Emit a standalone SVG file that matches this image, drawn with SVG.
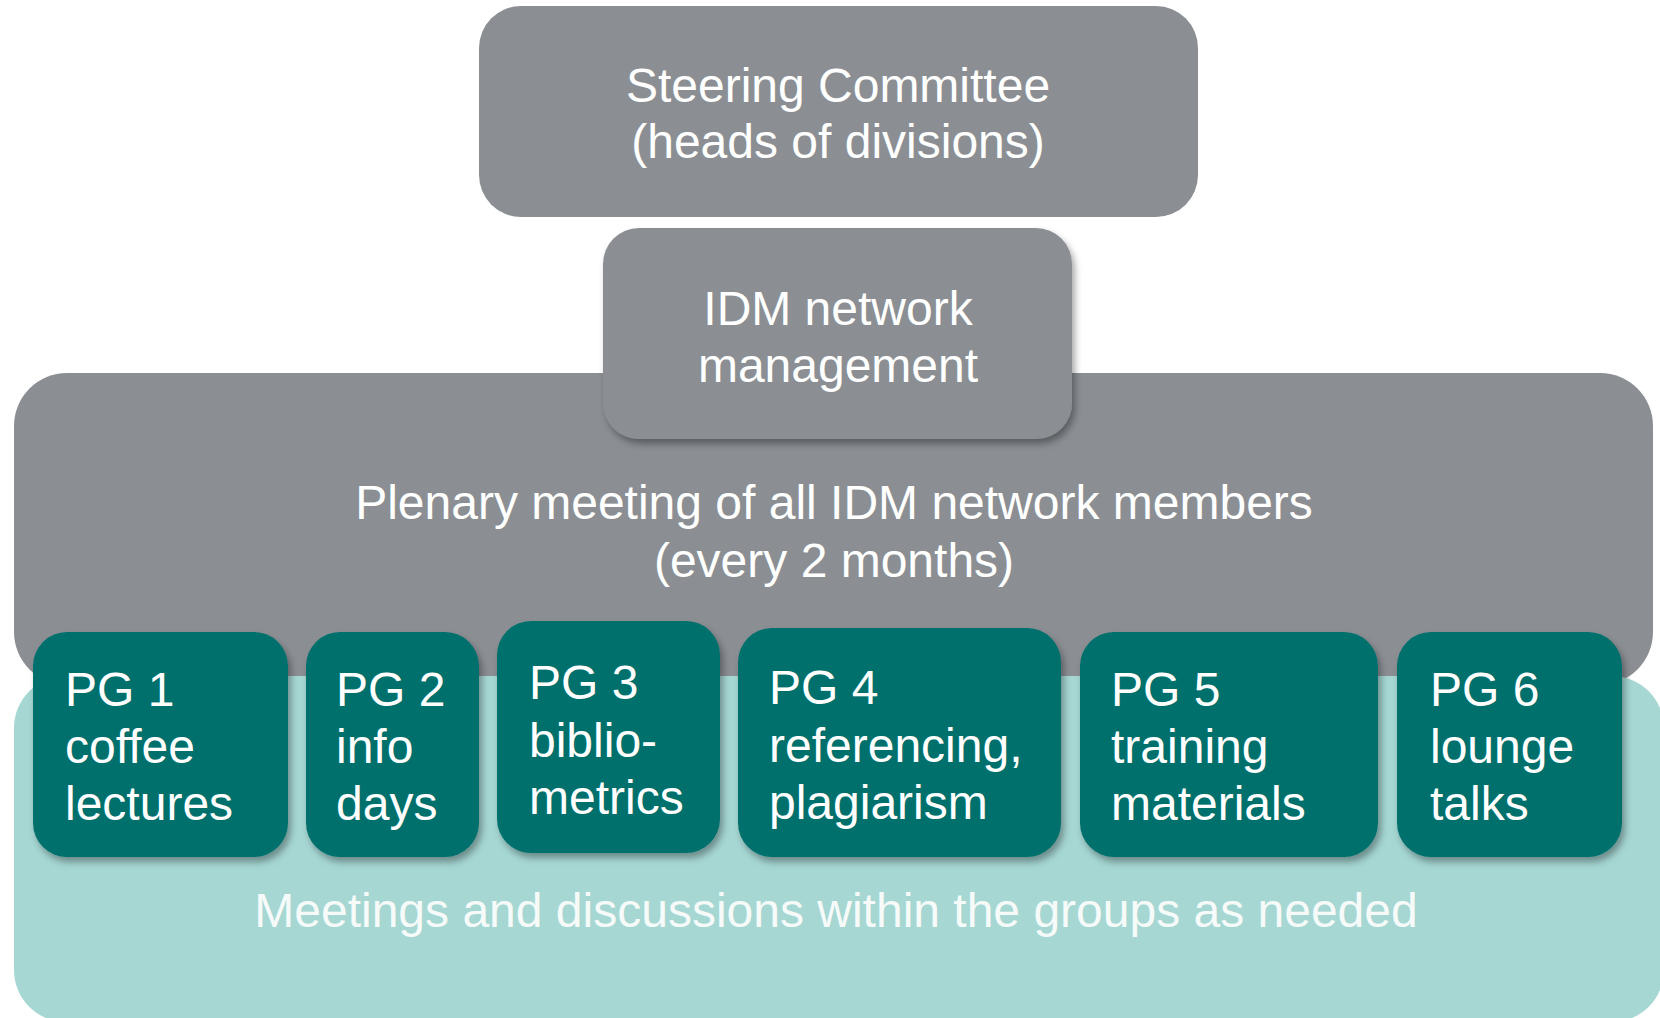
<svg xmlns="http://www.w3.org/2000/svg" width="1660" height="1018" viewBox="0 0 1660 1018">
<defs>
<filter id="sh" x="-10%" y="-10%" width="125%" height="130%">
<feDropShadow dx="3" dy="5" stdDeviation="3.5" flood-color="#000" flood-opacity="0.35"/>
</filter>
<style>
.gray{fill:#8b8f94}
.pg{fill:#006f6d}
.light{fill:#a6d7d3}
text{font-family:"Liberation Sans",Arial,Helvetica,sans-serif;font-size:48px;fill:#ffffff}
.c{text-anchor:middle}
.m{fill:#f6fbfa}
</style>
</defs>
<rect width="1660" height="1018" fill="#ffffff"/>
<g id="plenary">
<rect class="gray" x="14" y="373" width="1639" height="312" rx="53"/>
<text class="c" x="834" y="519">Plenary meeting of all IDM network members</text>
<text class="c" x="834" y="577">(every 2 months)</text>
</g>
<g id="groups-area">
<rect class="light" x="14" y="676" width="1650" height="346" rx="52"/>
<text class="c m" x="836" y="927">Meetings and discussions within the groups as needed</text>
</g>
<g id="steering">
<rect class="gray" x="479" y="6" width="719" height="211" rx="42"/>
<text class="c" x="838" y="102">Steering Committee</text>
<text class="c" x="838" y="158">(heads of divisions)</text>
</g>
<g id="management">
<rect class="gray" x="603" y="228" width="469" height="211" rx="36" filter="url(#sh)"/>
<text class="c" x="838" y="325">IDM network</text>
<text class="c" x="838" y="382">management</text>
</g>
<g id="pg1">
<rect class="pg" x="33" y="632" width="255" height="225" rx="34" filter="url(#sh)"/>
<text x="65" y="706">PG 1</text>
<text x="65" y="763">coffee</text>
<text x="65" y="820">lectures</text>
</g>
<g id="pg2">
<rect class="pg" x="306" y="632" width="173" height="225" rx="34" filter="url(#sh)"/>
<text x="336" y="706">PG 2</text>
<text x="336" y="763">info</text>
<text x="336" y="820">days</text>
</g>
<g id="pg3">
<rect class="pg" x="497" y="621" width="223" height="232" rx="34" filter="url(#sh)"/>
<text x="529" y="699">PG 3</text>
<text x="529" y="757">biblio-</text>
<text x="529" y="814">metrics</text>
</g>
<g id="pg4">
<rect class="pg" x="738" y="628" width="323" height="229" rx="34" filter="url(#sh)"/>
<text x="769" y="704">PG 4</text>
<text x="769" y="762">referencing,</text>
<text x="769" y="819">plagiarism</text>
</g>
<g id="pg5">
<rect class="pg" x="1080" y="632" width="298" height="225" rx="34" filter="url(#sh)"/>
<text x="1111" y="706">PG 5</text>
<text x="1111" y="763">training</text>
<text x="1111" y="820">materials</text>
</g>
<g id="pg6">
<rect class="pg" x="1397" y="632" width="225" height="225" rx="34" filter="url(#sh)"/>
<text x="1430" y="706">PG 6</text>
<text x="1430" y="763">lounge</text>
<text x="1430" y="820">talks</text>
</g>
<g id="connectors"/>
</svg>
